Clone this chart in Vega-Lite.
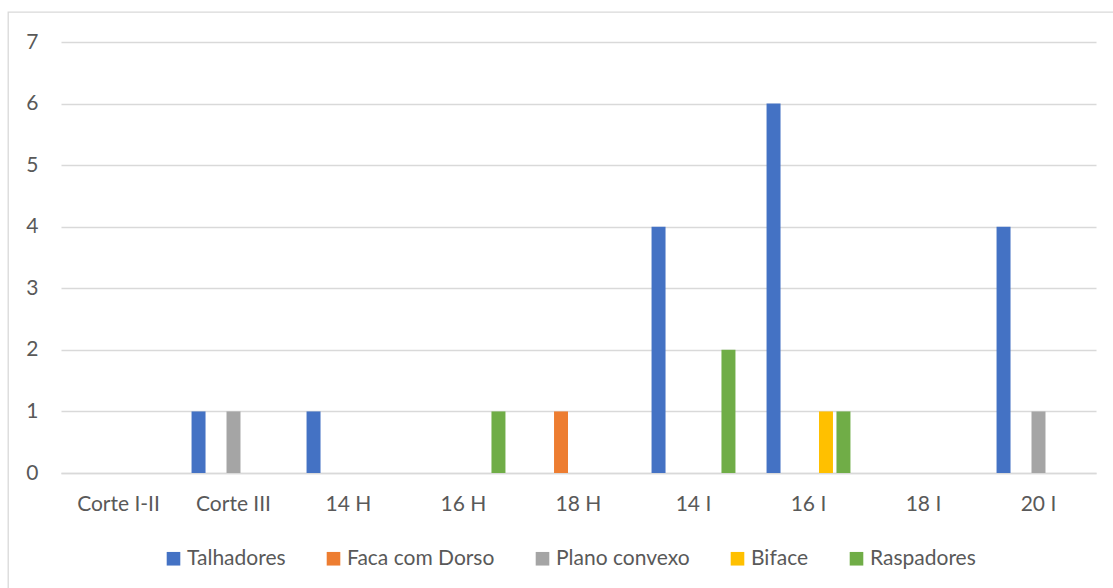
{
  "$schema": "https://vega.github.io/schema/vega-lite/v6.json",
  "width": 1106,
  "height": 577,
  "autosize": {"type": "none"},
  "padding": {"left": 8, "top": 12, "right": 0, "bottom": 0},
  "background": "white",
  "config": {
    "font": "Lato",
    "view": {"stroke": "#D9D9D9", "strokeWidth": 1.3}
  },
  "data": {
    "values": [
      {"quadra": "Corte III", "tipo": "Talhadores", "n": 1},
      {"quadra": "Corte III", "tipo": "Plano convexo", "n": 1},
      {"quadra": "14 H", "tipo": "Talhadores", "n": 1},
      {"quadra": "16 H", "tipo": "Raspadores", "n": 1},
      {"quadra": "18 H", "tipo": "Faca com Dorso", "n": 1},
      {"quadra": "14 I", "tipo": "Talhadores", "n": 4},
      {"quadra": "14 I", "tipo": "Raspadores", "n": 2},
      {"quadra": "16 I", "tipo": "Talhadores", "n": 6},
      {"quadra": "16 I", "tipo": "Biface", "n": 1},
      {"quadra": "16 I", "tipo": "Raspadores", "n": 1},
      {"quadra": "20 I", "tipo": "Talhadores", "n": 4},
      {"quadra": "20 I", "tipo": "Plano convexo", "n": 1}
    ]
  },
  "mark": {"type": "bar"},
  "encoding": {
    "x": {
      "field": "quadra",
      "type": "nominal",
      "scale": {
        "domain": ["Corte I-II", "Corte III", "14 H", "16 H", "18 H", "14 I", "16 I", "18 I", "20 I"],
        "range": [53, 1088],
        "paddingInner": 0.24,
        "paddingOuter": 0.12
      },
      "axis": {
        "title": null,
        "offset": -116,
        "domainColor": "#D9D9D9",
        "domainWidth": 1.3,
        "ticks": false,
        "tickSize": 0,
        "labelAngle": 0,
        "labelBaseline": "middle",
        "labelPadding": 31,
        "labelFont": "Lato",
        "labelFontSize": 21,
        "labelColor": "#595959",
        "grid": false
      }
    },
    "xOffset": {
      "field": "tipo",
      "type": "nominal",
      "scale": {
        "domain": ["Talhadores", "Faca com Dorso", "Plano convexo", "Biface", "Raspadores"],
        "paddingInner": 0.2,
        "paddingOuter": 0.1
      }
    },
    "y": {
      "field": "n",
      "type": "quantitative",
      "scale": {"domain": [0, 7], "range": [461, 30], "nice": false, "zero": true},
      "axis": {
        "title": null,
        "offset": -30,
        "domain": false,
        "ticks": false,
        "tickSize": 0,
        "labelPadding": 0,
        "values": [0, 1, 2, 3, 4, 5, 6, 7],
        "labelOverlap": false,
        "labelFont": "Lato",
        "labelFontSize": 21,
        "labelColor": "#595959",
        "grid": true,
        "gridColor": "#D9D9D9",
        "gridWidth": 1.3
      }
    },
    "color": {
      "field": "tipo",
      "type": "nominal",
      "scale": {
        "domain": ["Talhadores", "Faca com Dorso", "Plano convexo", "Biface", "Raspadores"],
        "range": ["#4472C4", "#ED7D31", "#A5A5A5", "#FFC000", "#70AD47"]
      },
      "legend": {
        "title": null,
        "orient": "none",
        "direction": "horizontal",
        "legendX": 155,
        "legendY": 536,
        "padding": 0,
        "symbolType": "square",
        "symbolSize": 185,
        "symbolStrokeWidth": 0,
        "labelFont": "Lato",
        "labelFontSize": 21,
        "labelColor": "#595959",
        "labelOffset": 3,
        "columnPadding": 37
      }
    }
  }
}
